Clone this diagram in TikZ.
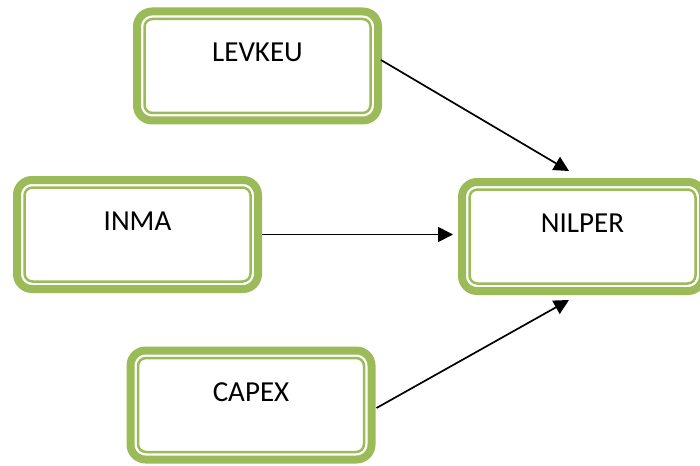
\documentclass[tikz,border=0pt]{standalone}
\usepackage{fontspec}
\setmainfont{Carlito}
\usetikzlibrary{arrows.meta}

\definecolor{boxgreen}{HTML}{9BBB59}

\tikzset{
  flowbox/.style={
    draw=boxgreen, line width=8pt, rounded corners=15pt,
    minimum width=241pt, minimum height=109pt, inner sep=0pt, outer sep=0pt,
    text height=19pt, text depth=27pt,
    font=\fontsize{29}{34}\selectfont
  },
  innerline/.style={draw=boxgreen, line width=2.5pt, rounded corners=8pt},
  link/.style={line width=1.7pt, -{Triangle[length=15pt,width=15pt]}}
}

\begin{document}
\begin{tikzpicture}[x=1pt,y=-1pt]
  \useasboundingbox (0,0) rectangle (700,465);

  % boxes
  \node[flowbox] (levkeu) at (257.5,66)  {LEVKEU};
  \node[flowbox] (inma)   at (137.5,234.5) {INMA};
  \node[flowbox] (nilper) at (582.5,236.5) {NILPER};
  \node[flowbox] (capex)  at (251,405)   {CAPEX};

  % thin inner outline of each box
  \foreach \b in {levkeu,inma,nilper,capex}
    \draw[innerline] ([shift={(7.5pt,-7.5pt)}]\b.north west)
                     rectangle ([shift={(-7.5pt,7.5pt)}]\b.south east);

  % connectors
  \draw[link] ([shift={(3pt,6pt)}]levkeu.east) -- ([shift={(-13.5pt,11pt)}]nilper.north);
  \draw[link] ([xshift=4pt]inma.east) -- ([xshift=-9pt]nilper.west |- inma.east);
  \draw[link] ([shift={(5pt,-3pt)}]capex.east) -- ([shift={(-13.5pt,-9pt)}]nilper.south);
\end{tikzpicture}
\end{document}
